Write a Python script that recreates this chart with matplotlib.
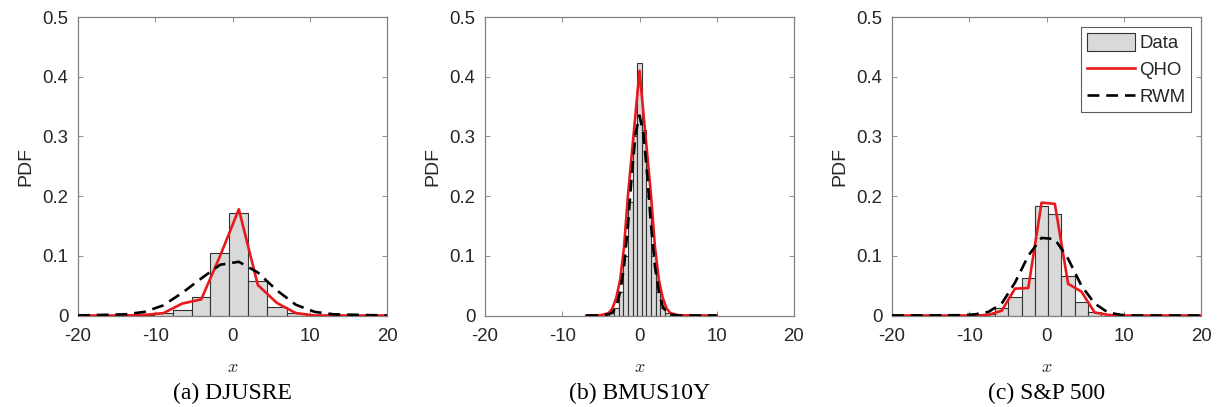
import numpy as np
import matplotlib
matplotlib.use("Agg")
import matplotlib.pyplot as plt
from matplotlib.patches import Patch
from matplotlib.lines import Line2D

plt.rcParams['font.family'] = ['Liberation Sans', 'DejaVu Sans']
plt.rcParams['mathtext.fontset'] = 'cm'
plt.rcParams['axes.unicode_minus'] = False

# ---------------- data ----------------
# (a) DJUSRE
a_edges = [-12.65, -10.2, -7.75, -5.3, -2.85, -0.4, 2.05, 4.5, 7.0, 9.45, 11.9]
a_hist = [0.001, 0.004, 0.0095, 0.031, 0.1055, 0.172, 0.058, 0.014, 0.005, 0.001]
a_x = [-20, -13.85, -11.4, -8.95, -6.5, -4.05, -1.6, 0.82, 3.28, 5.75, 8.2, 10.65, 13.1, 20]
a_qho = [0, 0, 0.001, 0.004, 0.02, 0.027, 0.1, 0.178, 0.051, 0.021, 0.004, 0.0, 0, 0]
a_rwm = [0, 0.002, 0.006, 0.017, 0.038, 0.062, 0.085, 0.09, 0.072, 0.042, 0.018, 0.006, 0.002, 0]

# (b) BMUS10Y
b_edges = [-3.9, -3.3, -2.7, -2.1, -1.5, -0.9, -0.3, 0.3, 0.9, 1.5, 2.1, 2.7, 3.3, 3.9]
b_hist = [0.005, 0.013, 0.04, 0.10, 0.19, 0.30, 0.423, 0.31, 0.20, 0.10, 0.04, 0.012, 0.004]
b_x = [-6.9, -5, -4, -3.5, -3, -2.5, -2, -1.5, -1, -0.5, 0, 0.5, 1, 1.5, 2, 2.5, 3, 3.5, 4, 5, 7, 10]
b_qho = [0, 0.0005, 0.004, 0.012, 0.03, 0.06, 0.115, 0.2, 0.27, 0.34, 0.41, 0.34, 0.27, 0.2, 0.115,
         0.06, 0.03, 0.012, 0.004, 0.0005, 0, 0]
b_rwm = [0, 0.0, 0.002, 0.005, 0.015, 0.04, 0.082, 0.15, 0.235, 0.305, 0.335, 0.305, 0.235, 0.15,
         0.082, 0.04, 0.015, 0.005, 0.002, 0, 0, 0]

# (c) S&P 500
c_edges = [-8.38, -6.66, -4.94, -3.22, -1.5, 0.22, 1.94, 3.66, 5.38, 7.1]
c_hist = [0.002, 0.013, 0.031, 0.0625, 0.184, 0.170, 0.067, 0.022, 0.0055]
c_x = [-20, -11, -9.24, -7.52, -5.8, -4.08, -2.36, -0.64, 1.08, 2.8, 4.52, 6.24, 7.96, 9.68, 11.4, 20]
c_qho = [0, 0, 0, 0.001, 0.008, 0.045, 0.046, 0.189, 0.187, 0.053, 0.04, 0.005, 0.001, 0, 0, 0]
c_rwm = [0, 0.0005, 0.002, 0.006, 0.02, 0.055, 0.1, 0.13, 0.128, 0.095, 0.05, 0.02, 0.005, 0.001, 0, 0]

captions = ['(a) DJUSRE', '(b) BMUS10Y', '(c) S&P 500']
x_ticks = [-20, -10, 0, 10, 20]
y_ticks = [0, 0.1, 0.2, 0.3, 0.4, 0.5]
y_ticklabels = ['0', '0.1', '0.2', '0.3', '0.4', '0.5']

panels = [
    (a_edges, a_hist, a_x, a_qho, a_rwm),
    (b_edges, b_hist, b_x, b_qho, b_rwm),
    (c_edges, c_hist, c_x, c_qho, c_rwm),
]

# ---------------- figure ----------------
fig = plt.figure(figsize=(12.2, 4.07), dpi=100)
lefts = [78 / 1220, 485 / 1220, 892 / 1220]
width = 309 / 1220
bottom = 1 - 315.5 / 407
height = (315.5 - 17) / 407

RED = '#e8191c'
SPINE = '#808080'
TXT = '#262626'
DASH = (0, (4.5, 2.6))

for i, (edges, hist, xs, qho, rwm) in enumerate(panels):
    ax = fig.add_axes([lefts[i], bottom, width, height])
    e = np.array(edges)
    ax.bar(e[:-1], hist, width=np.diff(e), align='edge', color='#d9d9d9',
           edgecolor='#333333', linewidth=0.8, zorder=2)
    ax.plot(xs, qho, color=RED, lw=1.9, zorder=3)
    ax.plot(xs, rwm, color='black', lw=1.9, ls=DASH, zorder=4)
    ax.set_xlim(-20, 20)
    ax.set_ylim(0, 0.5)
    ax.set_xticks(x_ticks)
    ax.set_yticks(y_ticks)
    ax.set_yticklabels(y_ticklabels)
    ax.tick_params(direction='in', length=3.5, width=0.6, color=SPINE,
                   labelsize=13.4, labelcolor=TXT, top=True, right=True)
    ax.tick_params(axis='x', pad=9)
    ax.tick_params(axis='y', pad=7)
    for s in ax.spines.values():
        s.set_color(SPINE)
        s.set_linewidth(0.9)
    ax.set_ylabel('PDF', fontsize=14, color=TXT, labelpad=6)
    ax.set_xlabel('$x$', fontsize=13, color=TXT, labelpad=10)
    fig.text(lefts[i] + width / 2, 1 - 393 / 407, captions[i],
             family=['Liberation Serif', 'DejaVu Serif'], fontsize=17,
             ha='center', va='center', color='black')

    if i == 2:
        handles = [Patch(facecolor='#d9d9d9', edgecolor='#333333', linewidth=0.8),
                   Line2D([], [], color=RED, lw=1.9),
                   Line2D([], [], color='black', lw=1.9, ls=DASH)]
        leg = ax.legend(handles, ['Data', 'QHO', 'RWM'], loc='upper right',
                        fontsize=13.4, frameon=True, fancybox=False,
                        borderpad=0.3, handlelength=2.6, handleheight=1.1,
                        handletextpad=0.2, labelspacing=0.42,
                        borderaxespad=0.55)
        leg.get_frame().set_edgecolor('#333333')
        leg.get_frame().set_linewidth(0.8)
        for t in leg.get_texts():
            t.set_color(TXT)

fig.savefig('out.png', dpi=100)
